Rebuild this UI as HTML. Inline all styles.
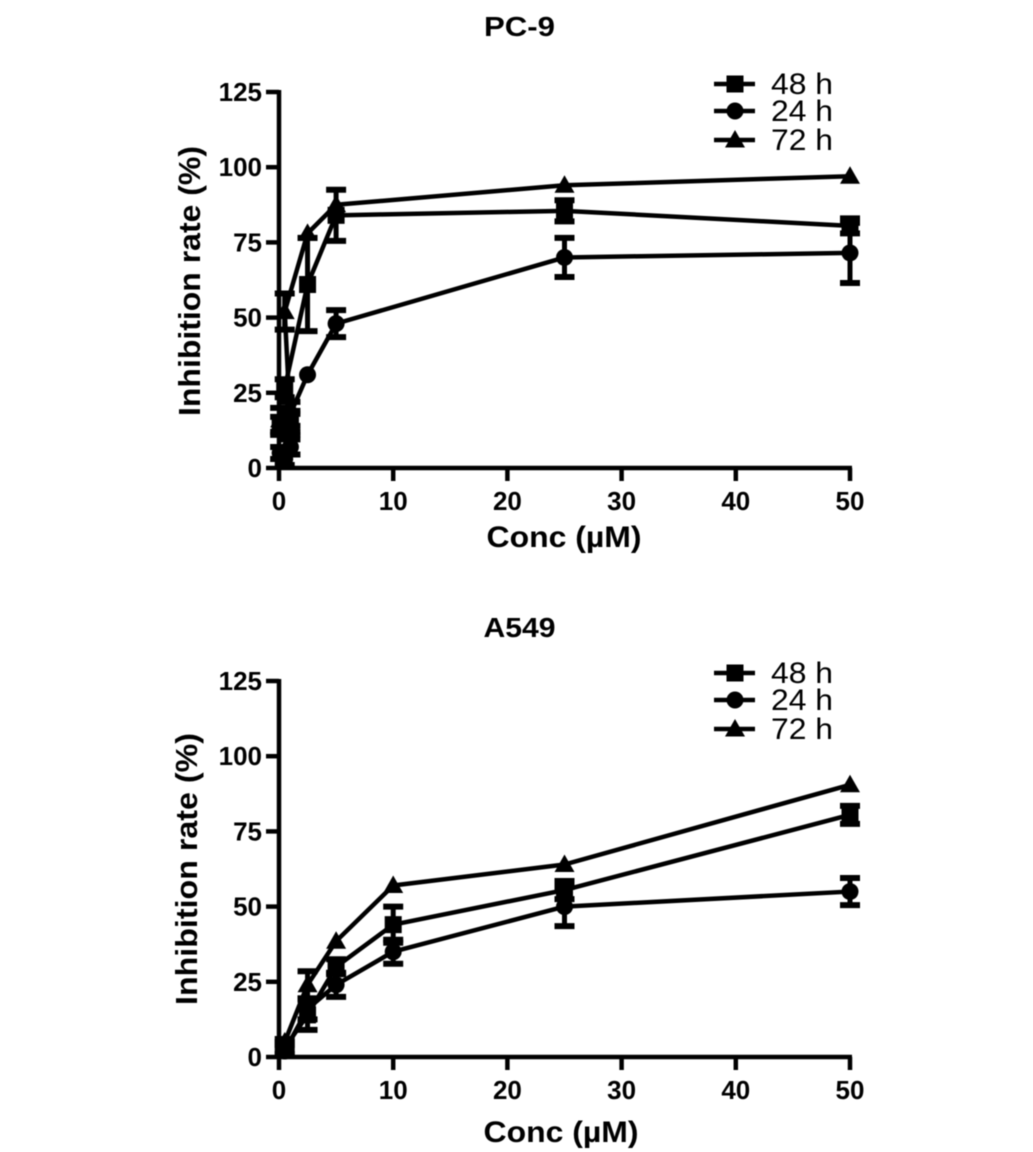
<!DOCTYPE html>
<html>
<head>
<meta charset="utf-8">
<title>Inhibition rate charts</title>
<style>
html,body{margin:0;padding:0;background:#fff;width:1033px;height:1152px;overflow:hidden}
svg{display:block;filter:blur(0.5px)}
text{font-family:"Liberation Sans",sans-serif;fill:#000}
</style>
</head>
<body>
<svg id="chart" width="1033" height="1152" viewBox="0 0 1033 1152" xmlns="http://www.w3.org/2000/svg"></svg>
<script>
const seriesLabels = ['48 h', '24 h', '72 h'];
const xTickValues = [0, 10, 20, 30, 40, 50];
const yTickValues = [0, 25, 50, 75, 100, 125];

const pc9Conc48 = [0.1, 1, 0.5, 2.5, 5, 25, 50];
const pc9Values48 = [14, 15, 26.5, 61, 84, 85.5, 80.5];
const pc9Errors48 = [3, 4, 3, 15.5, 8.5, 3.5, 2.5];

const pc9Conc24 = [0.1, 0.5, 1, 1, 2.5, 5, 25, 50];
const pc9Values24 = [5, 3, 7, 18, 31, 48, 70, 71.5];
const pc9Errors24 = [2, 2, 2.5, 4, 0, 4.5, 6.5, 10];

const pc9Conc72 = [0.1, 1, 0.5, 2.5, 5, 25, 50];
const pc9Values72 = [16, 15, 52, 78, 87.5, 94, 97];
const pc9Errors72 = [4, 3, 6, 0, 0, 0, 0];

const a549Conc48 = [0.5, 2.5, 5, 10, 25, 50];
const a549Values48 = [3, 14, 30, 44, 55.5, 80.5];
const a549Errors48 = [2, 5, 2.5, 6, 3, 3];

const a549Conc24 = [0.5, 2.5, 5, 10, 25, 50];
const a549Values24 = [2, 16, 24, 35, 50, 55];
const a549Errors24 = [1, 3.5, 4, 4, 6.5, 4.5];

const a549Conc72 = [0.5, 2.5, 5, 10, 25, 50];
const a549Values72 = [5, 24, 38.5, 57, 64, 90.5];
const a549Errors72 = [1, 4.5, 0, 0, 0, 0];

const NS = 'http://www.w3.org/2000/svg';
const root = document.getElementById('chart');

function make(parent, tag, attrs) {
  const el = document.createElementNS(NS, tag);
  for (const k in attrs) el.setAttribute(k, attrs[k]);
  parent.appendChild(el);
  return el;
}
function seg(parent, x1, y1, x2, y2, w) {
  return make(parent, 'line', {x1: x1, y1: y1, x2: x2, y2: y2, stroke: '#000', 'stroke-width': w});
}
function marker(parent, kind, x, y) {
  if (kind === 'square') {
    return make(parent, 'rect', {x: x - 8.5, y: y - 8.5, width: 17, height: 17, fill: '#000'});
  }
  if (kind === 'circle') {
    return make(parent, 'circle', {cx: x, cy: y, r: 8.5, fill: '#000'});
  }
  return make(parent, 'polygon', {points: (x - 10) + ',' + (y + 7.5) + ' ' + (x + 10) + ',' + (y + 7.5) + ' ' + x + ',' + (y - 10), fill: '#000'});
}
function label(parent, str, x, y, size, weight, anchor, len) {
  const t = make(parent, 'text', {x: x, y: y, 'font-size': size, 'font-weight': weight, 'text-anchor': anchor});
  if (len) {
    t.setAttribute('textLength', len);
    t.setAttribute('lengthAdjust', 'spacingAndGlyphs');
  }
  t.textContent = str;
  return t;
}

function drawPanel(opts) {
  const g = make(root, 'g', {});
  
  
  const sx = function (v) { return 279 + v / 50 * 571; };
  const sy = function (v) { return opts.y0 - v / 125 * 376; };

  const title = label(g, opts.title, 519.5, opts.titleY, 28, 'bold', 'middle', opts.titleLen);
  
  

  const yTitle = label(g, 'Inhibition rate (%)', 0, 0, 31, 'bold', 'middle', opts.yTitleLen);
  yTitle.setAttribute('transform', 'translate(' + opts.yTitleX + ' ' + opts.yTitleY + ') rotate(-90)');
  
  

  const xTitle = label(g, 'Conc (µM)', opts.xTitleX, opts.xTitleY, 30, 'bold', 'middle', 155);
  
  

  const axes = make(g, 'g', {});
  
  
  seg(axes, 279, sy(125) - 2, 279, opts.y0 + 2, 4.5);
  seg(axes, 277, opts.y0, 852, opts.y0, 4.5);

  yTickValues.forEach(function (v) {
    const tick = seg(axes, 266, sy(v), 279, sy(v), 4.5);
    
    
    const tl = label(axes, String(v), 262, sy(v) + 9, 26, 'bold', 'end');
    
    
  });
  xTickValues.forEach(function (v) {
    const tick = seg(axes, sx(v), opts.y0, sx(v), opts.y0 + 13, 4.5);
    
    
    const tl = label(axes, String(v), sx(v), opts.y0 + 42, 26, 'bold', 'middle');
    
    
  });

  opts.series.forEach(function (s) {
    const sg = make(g, 'g', {});
    
    
    const pts = s.x.map(function (c, i) { return sx(c) + ',' + sy(s.y[i]); }).join(' ');
    const pl = make(sg, 'polyline', {points: pts, fill: 'none', stroke: '#000', 'stroke-width': 4.5, 'stroke-linejoin': 'round'});
    
    
    s.x.forEach(function (c, i) {
      const px = sx(c);
      const e = s.err[i];
      if (e > 0) {
        const top = sy(s.y[i] + e);
        const bot = sy(s.y[i] - e);
        const eb = make(sg, 'g', {});
        
        
        seg(eb, px, top, px, bot, 5);
        seg(eb, px - 10, top, px + 10, top, 6);
        seg(eb, px - 10, bot, px + 10, bot, 6);
      }
      const m = marker(sg, s.kind, px, sy(s.y[i]));
      
      
    });
  });

  const leg = make(g, 'g', {});
  
  
  opts.series.forEach(function (s, i) {
    const ly = opts.legendY + [0, 27, 56][i];
    const e = make(leg, 'g', {});
    
    
    seg(e, 714, ly, 755, ly, 4.5);
    marker(e, s.kind, 735, ly);
    label(e, seriesLabels[i], 771, ly + 10, 30, 'normal', 'start', 62);
  });
}

drawPanel({
  name: 'pc9', title: 'PC-9', titleY: 36, titleLen: 71, y0: 468, legendY: 84,
  yTitleX: 200, yTitleY: 281, yTitleLen: 270, xTitleX: 564, xTitleY: 547,
  series: [
    {key: '48h', kind: 'square', x: pc9Conc48, y: pc9Values48, err: pc9Errors48},
    {key: '24h', kind: 'circle', x: pc9Conc24, y: pc9Values24, err: pc9Errors24},
    {key: '72h', kind: 'triangle', x: pc9Conc72, y: pc9Values72, err: pc9Errors72}
  ]
});
drawPanel({
  name: 'a549', title: 'A549', titleY: 637, titleLen: 72, y0: 1057, legendY: 673,
  yTitleX: 197, yTitleY: 869, yTitleLen: 272, xTitleX: 561, xTitleY: 1142,
  series: [
    {key: '48h', kind: 'square', x: a549Conc48, y: a549Values48, err: a549Errors48},
    {key: '24h', kind: 'circle', x: a549Conc24, y: a549Values24, err: a549Errors24},
    {key: '72h', kind: 'triangle', x: a549Conc72, y: a549Values72, err: a549Errors72}
  ]
});
</script>
</body>
</html>
